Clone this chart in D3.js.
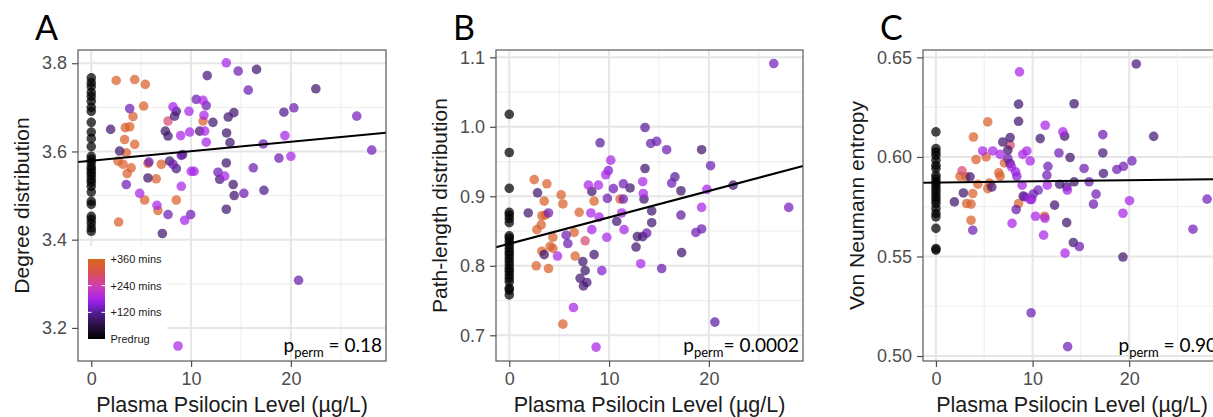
<!DOCTYPE html>
<html>
<head>
<meta charset="utf-8">
<script src="https://cdn.jsdelivr.net/npm/d3@7"></script>
<style>
  body { margin: 0; background: #fff; }
  svg text { font-family: "Liberation Sans", Arial, sans-serif; }
</style>
</head>
<body>
<div id="chart"></div>
<script>
// time codes (mins after dosing) used for colouring: 0 predrug, 90 dark, 135 purple, 180 magenta, 280 salmon, 340 orange

// ---- panel A: degree distribution ----
const predrugA = [3.767,3.756,3.747,3.734,3.725,3.714,3.700,3.691,3.666,3.644,3.629,3.611,3.589,3.582,3.575,3.565,3.559,3.552,3.545,3.537,3.530,3.521,3.508,3.487,3.480,3.453,3.446,3.437,3.427,3.419];
const pointsA = [
  [2.5,3.761,340],[4.35,3.763,340],[5.41,3.752,340],[5.25,3.703,340],[4.18,3.679,340],[3.41,3.654,340],[3.85,3.656,340],
  [11.2,3.669,340],[3.34,3.627,340],[4.35,3.616,340],[3.51,3.597,340],[2.68,3.578,340],[3.18,3.571,340],[4.0,3.563,340],
  [3.6,3.550,340],[5.68,3.573,340],[7.02,3.571,340],[6.51,3.538,340],[5.35,3.490,340],[6.68,3.466,340],[8.52,3.490,340],
  [2.74,3.440,340],[7.69,3.669,280],
  [1.94,3.650,90],[2.84,3.601,90],[5.68,3.540,90],[7.12,3.414,90],[8.52,3.691,90],[8.35,3.680,100],[7.42,3.646,90],
  [7.69,3.635,90],[10.86,3.646,90],[12.19,3.666,90],[11.62,3.772,100],[7.85,3.578,90],[8.52,3.561,100],[13.53,3.574,90],
  [12.87,3.537,100],[13.53,3.469,90],[16.56,3.786,90],[22.5,3.742,90],[13.56,3.642,90],[13.9,3.620,90],[13.72,3.678,90],
  [14.29,3.688,90],[19.3,3.689,110],[14.22,3.525,90],[14.32,3.500,90],[17.3,3.512,110],[9.15,3.593,90],
  [3.85,3.697,135],[3.51,3.525,135],[5.78,3.576,135],[7.69,3.457,135],[10.52,3.718,135],[11.52,3.704,135],[9.96,3.457,135],
  [12.7,3.553,135],[14.72,3.782,135],[15.73,3.739,135],[17.23,3.617,135],[20.3,3.699,135],[18.8,3.585,135],[26.6,3.680,140],
  [28.1,3.603,140],[16.23,3.563,135],[15.29,3.505,135],[20.77,3.308,130],[8.19,3.571,135],[9.02,3.591,135],
  [4.85,3.505,180],[6.58,3.478,180],[8.69,3.159,180],[8.19,3.701,175],[8.96,3.636,180],[9.79,3.691,180],[9.86,3.644,180],
  [11.19,3.716,180],[11.29,3.682,180],[11.36,3.646,180],[11.52,3.621,175],[13.53,3.801,180],[10.02,3.555,180],[10.3,3.555,180],
  [9.02,3.521,180],[9.36,3.444,175],[13.37,3.544,180],[19.4,3.636,175],[20.0,3.589,180]
];
const fitA = [3.579, 0.00215];

// ---- panel B: path-length distribution ----
const predrugB = [1.018,0.963,0.9115,0.877,0.873,0.868,0.862,0.843,0.840,0.835,0.830,0.825,0.820,0.816,0.811,0.806,0.801,0.796,0.792,0.787,0.782,0.777,0.768,0.765,0.758];
const pointsB = [
  [2.5,0.924,340],[3.77,0.918,340],[3.5,0.893,340],[5.2,0.902,340],[5.37,0.889,340],[8.5,0.893,345],[3.6,0.873,340],
  [3.27,0.872,340],[3.2,0.859,340],[2.77,0.852,340],[7.0,0.877,340],[6.5,0.848,340],[4.37,0.841,340],[4.1,0.828,340],
  [4.37,0.825,340],[3.27,0.821,340],[2.7,0.800,340],[3.93,0.796,340],[6.6,0.814,340],[5.37,0.716,340],[11.1,0.896,340],
  [7.6,0.836,280],
  [1.9,0.876,90],[2.83,0.905,90],[3.5,0.816,90],[7.37,0.806,90],[7.6,0.793,90],[7.1,0.782,90],[7.43,0.771,100],
  [7.77,0.776,100],[8.5,0.816,90],[8.27,0.907,90],[19.27,0.967,90],[13.6,0.940,90],[17.2,0.908,90],[22.43,0.916,90],
  [17.27,0.819,90],[14.27,0.879,90],[14.27,0.862,90],[13.37,0.842,90],[12.83,0.842,90],[12.7,0.827,90],[13.5,0.896,90],
  [12.1,0.912,90],[10.77,0.864,90],
  [3.93,0.876,135],[5.7,0.844,135],[9.1,0.977,120],[13.6,0.999,120],[14.17,0.976,130],[14.77,0.979,135],[15.77,0.967,135],
  [16.6,0.928,120],[16.27,0.919,135],[20.17,0.944,135],[26.5,1.091,140],[28.0,0.884,140],[17.2,0.873,125],[19.27,0.853,135],
  [18.7,0.848,135],[15.27,0.796,130],[20.6,0.719,125],[13.77,0.847,130],[11.43,0.918,135],[10.43,0.911,135],[9.83,0.897,135],
  [11.43,0.896,135],[9.93,0.937,150],[5.87,0.832,135],[9.27,0.793,150],
  [19.8,0.910,180],[19.27,0.884,180],[13.17,0.803,180],[13.43,0.904,180],[13.37,0.921,180],[11.5,0.852,180],[11.27,0.876,180],
  [10.17,0.952,180],[9.67,0.931,180],[8.93,0.916,180],[7.93,0.916,180],[8.17,0.876,180],[9.0,0.870,180],[8.27,0.852,180],
  [9.77,0.841,180],[6.43,0.740,180],[8.7,0.683,180],[4.83,0.814,180]
];
const fitB = [0.8317, 0.0038];

// ---- panel C: von Neumann entropy ----
const predrugC = [0.6126,0.6042,0.6025,0.6008,0.5983,0.5958,0.5942,0.5908,0.5892,0.5875,0.5866,0.5849,0.5833,0.5816,0.5799,0.5783,0.5766,0.5741,0.5716,0.5699,0.5641,0.5540,0.5532];
const pointsC = [
  [5.36,0.6176,340],[3.88,0.6100,340],[4.15,0.5987,340],[5.19,0.6000,340],[2.49,0.5903,340],[3.11,0.5900,340],[4.33,0.5863,340],
  [5.54,0.5869,340],[5.36,0.5841,340],[6.5,0.5920,340],[6.64,0.5903,340],[7.09,0.5970,340],[3.81,0.5816,340],[3.18,0.5766,340],
  [3.63,0.5763,340],[3.63,0.5682,340],[8.55,0.5766,345],[11.24,0.5702,340],[2.7,0.5930,280],[7.68,0.6059,280],
  [1.91,0.5774,90],[2.84,0.5819,90],[3.53,0.5900,100],[5.78,0.5849,100],[6.92,0.6075,90],[7.68,0.6097,90],[7.44,0.6034,90],
  [7.68,0.5967,100],[8.55,0.6265,90],[8.55,0.6179,90],[10.79,0.6092,90],[12.8,0.5863,90],[12.28,0.5758,90],[13.32,0.6104,90],
  [14.3,0.6267,90],[13.88,0.5997,90],[13.53,0.5850,90],[14.3,0.5875,90],[17.27,0.6020,100],[17.33,0.5917,100],[19.35,0.5497,90],
  [13.53,0.5670,90],[14.22,0.5570,90],[20.73,0.6467,100],[22.53,0.6103,100],[9.03,0.5803,100],
  [3.81,0.5632,135],[12.73,0.6020,135],[11.59,0.5953,135],[11.48,0.5908,135],[8.3,0.5736,130],[9.2,0.5799,135],[10.06,0.5813,135],
  [10.58,0.5833,135],[9.85,0.5217,135],[7.44,0.5992,135],[8.37,0.5903,150],[15.33,0.5942,135],[15.85,0.5875,135],[17.27,0.6112,135],
  [18.72,0.5937,135],[19.41,0.5953,135],[20.28,0.5980,135],[16.57,0.5813,135],[16.3,0.5763,135],[14.84,0.5550,135],[13.63,0.5047,135],
  [28.06,0.5788,140],[26.6,0.5637,140],[9.9,0.5787,135],
  [8.65,0.6427,180],[4.84,0.6030,180],[5.88,0.6030,180],[6.64,0.6013,180],[8.99,0.6013,180],[9.41,0.6030,180],[9.75,0.5980,180],
  [7.82,0.5950,180],[8.24,0.5925,165],[8.92,0.5858,180],[9.75,0.5786,180],[7.88,0.5666,180],[10.31,0.5702,180],[11.14,0.5607,180],
  [11.31,0.6159,180],[13.14,0.6126,180],[11.52,0.5858,180],[13.6,0.5833,180],[20.03,0.5780,180],[19.35,0.5717,180],[13.36,0.5517,180],
  [11.28,0.5692,180]
];
const fitC = [0.5871, 0.00006];

const xTicks = [0, 10, 20];
const xMinor = [5, 15, 25];
const legendMins = [0, 120, 240, 360];
const legendLabels = ["Predrug", "+120 mins", "+240 mins", "+360 mins"];

const W = 1213, H = 417;
const svg = d3.select("#chart").append("svg")
  .attr("width", W).attr("height", H)
  .style("display", "block");
svg.append("rect").attr("width", W).attr("height", H).attr("fill", "#fff");

const color = d3.scaleLinear()
  .domain([0, 60, 120, 170, 240, 300, 360])
  .range(["#000000", "#28103f", "#571c98", "#a020f0", "#d040b0", "#d9504e", "#d8681a"])
  .interpolate(d3.interpolateRgb);

const panels = [
  { letter: "A", left: 78, right: 386, xd: [-1.33, 29.53], yd: [3.125, 3.830],
    yTicks: [3.2, 3.4, 3.6, 3.8], yMinor: [3.3, 3.5, 3.7], fmt: ".1f", titleOff: 49,
    title: "Degree distribution", pre: predrugA, pts: pointsA, fit: fitA, p: "0.18", sep: " = ", legend: true },
  { letter: "B", left: 496, right: 803, xd: [-1.33, 29.43], yd: [0.663, 1.1105],
    yTicks: [0.7, 0.8, 0.9, 1.0, 1.1], yMinor: [0.75, 0.85, 0.95, 1.05], fmt: ".1f", titleOff: 49,
    title: "Path-length distribution", pre: predrugB, pts: pointsB, fit: fitB, p: "0.0002", sep: "= " },
  { letter: "C", left: 923, right: 1221, xd: [-1.34, 29.5], yd: [0.4975, 0.6537],
    yTicks: [0.50, 0.55, 0.60, 0.65], yMinor: [0.525, 0.575, 0.625], fmt: ".2f", titleOff: 59,
    title: "Von Neumann entropy", pre: predrugC, pts: pointsC, fit: fitC, p: "0.90", sep: " = " }
];

const plotTop = 50, plotBottom = 361;

panels.forEach(P => {
  const x = d3.scaleLinear().domain(P.xd).range([P.left, P.right]);
  const y = d3.scaleLinear().domain(P.yd).range([plotBottom, plotTop]);
  const g = svg.append("g");

  // grid
  const grid = g.append("g");
  grid.selectAll(".vmin").data(xMinor).join("line")
    .attr("x1", d => x(d)).attr("x2", d => x(d)).attr("y1", plotTop).attr("y2", plotBottom)
    .attr("stroke", "#f0f0f0").attr("stroke-width", 1.2);
  grid.selectAll(".hmin").data(P.yMinor).join("line")
    .attr("y1", d => y(d)).attr("y2", d => y(d)).attr("x1", P.left).attr("x2", P.right)
    .attr("stroke", "#f0f0f0").attr("stroke-width", 1.2);
  grid.selectAll(".vmaj").data(xTicks).join("line")
    .attr("x1", d => x(d)).attr("x2", d => x(d)).attr("y1", plotTop).attr("y2", plotBottom)
    .attr("stroke", "#e6e6e6").attr("stroke-width", 2);
  grid.selectAll(".hmaj").data(P.yTicks).join("line")
    .attr("y1", d => y(d)).attr("y2", d => y(d)).attr("x1", P.left).attr("x2", P.right)
    .attr("stroke", "#e6e6e6").attr("stroke-width", 2);

  // points
  g.append("g").selectAll("circle").data(P.pre).join("circle")
    .attr("cx", x(0)).attr("cy", d => y(d)).attr("r", 4.8)
    .attr("fill", color(0)).attr("fill-opacity", 0.72);
  g.append("g").selectAll("circle").data(P.pts).join("circle")
    .attr("cx", d => x(d[0])).attr("cy", d => y(d[1])).attr("r", 4.8)
    .attr("fill", d => color(d[2])).attr("fill-opacity", 0.72);

  // fitted line across full range
  g.append("line")
    .attr("x1", x(P.xd[0])).attr("y1", y(P.fit[0] + P.fit[1] * P.xd[0]))
    .attr("x2", x(P.xd[1])).attr("y2", y(P.fit[0] + P.fit[1] * P.xd[1]))
    .attr("stroke", "#000").attr("stroke-width", 2);

  // colour legend (panel A)
  if (P.legend) {
    const lg = g.append("g");
    lg.append("rect").attr("x", P.left + 1).attr("y", 246).attr("width", 88).attr("height", plotBottom - 247)
      .attr("fill", "#fff");
    const ly = d3.scaleLinear().domain([0, 360]).range([339, 259]);
    const grad = svg.append("defs").append("linearGradient")
      .attr("id", "timegrad").attr("x1", 0).attr("x2", 0).attr("y1", 1).attr("y2", 0);
    d3.range(0, 361, 20).forEach(m => {
      grad.append("stop").attr("offset", m / 360).attr("stop-color", color(m));
    });
    lg.append("rect").attr("x", 88).attr("y", ly(360)).attr("width", 17).attr("height", ly(0) - ly(360))
      .attr("fill", "url(#timegrad)");
    lg.selectAll(".lt").data([120, 240]).join("g").each(function (m) {
      d3.select(this).append("line").attr("x1", 88).attr("x2", 91.5).attr("y1", ly(m)).attr("y2", ly(m))
        .attr("stroke", "#fff").attr("stroke-width", 1);
      d3.select(this).append("line").attr("x1", 101.5).attr("x2", 105).attr("y1", ly(m)).attr("y2", ly(m))
        .attr("stroke", "#fff").attr("stroke-width", 1);
    });
    lg.selectAll("text").data(legendMins).join("text")
      .attr("x", 110.5).attr("y", d => ly(d)).attr("dy", "0.35em")
      .attr("font-size", 11).attr("fill", "#1a1a1a")
      .text((d, i) => legendLabels[i]);
  }

  // p value
  const pt = g.append("text")
    .attr("x", P.right - 4).attr("y", 352).attr("text-anchor", "end")
    .style("font-family", "Lato, 'Open Sans', sans-serif").attr("font-size", 19).attr("fill", "#000");
  pt.append("tspan").text("p");
  pt.append("tspan").attr("font-size", 13).attr("dy", 5).text("perm");
  pt.append("tspan").attr("dy", -5).text(P.sep + P.p);

  // border
  g.append("rect").attr("x", P.left).attr("y", plotTop).attr("width", P.right - P.left).attr("height", plotBottom - plotTop)
    .attr("fill", "none").attr("stroke", "#595959").attr("stroke-width", 1.2);

  // axes
  const ya = d3.axisLeft(y).tickValues(P.yTicks).tickFormat(d3.format(P.fmt)).tickSize(6).tickPadding(5);
  const xa = d3.axisBottom(x).tickValues(xTicks).tickSize(6).tickPadding(5);
  [g.append("g").attr("transform", `translate(${P.left},0)`).call(ya),
   g.append("g").attr("transform", `translate(0,${plotBottom})`).call(xa)].forEach(a => {
    a.select(".domain").remove();
    a.selectAll(".tick line").attr("stroke", "#4d4d4d").attr("stroke-width", 1.2);
    a.selectAll(".tick text").attr("fill", "#4d4d4d").attr("font-size", 18)
      .style("font-family", "'Liberation Sans', Arial, sans-serif");
  });

  // titles
  g.append("text").attr("x", (P.left + P.right) / 2).attr("y", 412).attr("text-anchor", "middle")
    .attr("font-size", 21.5).attr("fill", "#1a1a1a").text("Plasma Psilocin Level (µg/L)");
  g.append("text").attr("transform", `translate(${P.left - P.titleOff},${(plotTop + plotBottom) / 2}) rotate(-90)`)
    .attr("text-anchor", "middle").attr("font-size", 21).attr("fill", "#1a1a1a").text(P.title);
  g.append("text").attr("x", P.left - 43).attr("y", 40)
    .style("font-family", "Lato, 'Open Sans', sans-serif").attr("font-size", 34).attr("fill", "#000")
    .text(P.letter);
});
</script>
</body>
</html>
